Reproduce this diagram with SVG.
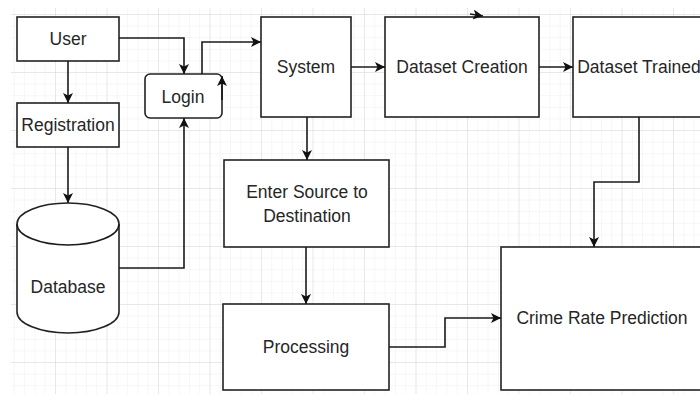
<svg xmlns="http://www.w3.org/2000/svg" width="700" height="394" viewBox="0 0 700 394">
  <defs>
    <pattern id="minor" patternUnits="userSpaceOnUse" x="3.5" y="2.4" width="10.3" height="11.6">
      <path d="M0,0 V11.6 M0,0 H10.3" fill="none" stroke="#eeeeee" stroke-width="1"/>
    </pattern>
    <pattern id="major" patternUnits="userSpaceOnUse" x="3.5" y="14" width="51.5" height="58">
      <path d="M0,0 V58 M0,0 H51.5" fill="none" stroke="#dadada" stroke-width="1"/>
    </pattern>
    <marker id="arr" viewBox="0 0 10 10" refX="10" refY="5" markerWidth="10" markerHeight="10" orient="auto" markerUnits="userSpaceOnUse">
      <path d="M0,0 L10,5 L0,10 L2.5,5 z" fill="#111"/>
    </marker>
  </defs>
  <style>
    .box { fill: #ffffff; stroke: #222222; stroke-width: 1.6; }
    .lbl { font-family: "Liberation Sans", Arial, sans-serif; font-size: 17.5px; fill: #262626; text-anchor: middle; dominant-baseline: central; }
    .edge { fill: none; stroke: #1a1a1a; stroke-width: 1.6; marker-end: url(#arr); }
    .line { fill: none; stroke: #1a1a1a; stroke-width: 1.6; }
  </style>
  <rect x="0" y="0" width="700" height="394" fill="#ffffff"/>
  <rect x="11" y="8" width="689" height="386" fill="url(#minor)"/>
  <rect x="11" y="8" width="689" height="386" fill="url(#major)"/>

  <g id="user">
    <rect class="box" x="17" y="17" width="102" height="44"/>
    <text class="lbl" x="68" y="39">User</text>
  </g>
  <g id="registration">
    <rect class="box" x="17" y="103" width="102" height="44"/>
    <text class="lbl" x="68" y="125">Registration</text>
  </g>
  <g id="database">
    <path class="box" d="M17,224 A51,21 0 0 1 119,224 V312 A51,21 0 0 1 17,312 Z"/>
    <path class="line" d="M17,224 A51,21 0 0 0 119,224"/>
    <text class="lbl" x="68" y="287">Database</text>
  </g>
  <g id="login">
    <rect class="box" x="145" y="74" width="77" height="44" rx="5"/>
    <text class="lbl" x="183" y="97">Login</text>
  </g>
  <g id="system">
    <rect class="box" x="261" y="17" width="90" height="100"/>
    <text class="lbl" x="306" y="67">System</text>
  </g>
  <g id="dataset-creation">
    <rect class="box" x="385" y="17" width="154" height="100"/>
    <text class="lbl" x="462" y="67">Dataset Creation</text>
  </g>
  <g id="dataset-trained">
    <rect class="box" x="573" y="17" width="132" height="100"/>
    <text class="lbl" x="639" y="67">Dataset Trained</text>
  </g>
  <g id="enter-source">
    <rect class="box" x="224" y="160" width="165" height="87"/>
    <text class="lbl" x="307" y="192">Enter Source to</text>
    <text class="lbl" x="307" y="216">Destination</text>
  </g>
  <g id="processing">
    <rect class="box" x="223" y="304" width="166" height="86"/>
    <text class="lbl" x="306" y="347">Processing</text>
  </g>
  <g id="crime-rate">
    <rect class="box" x="501" y="247" width="204" height="143"/>
    <text class="lbl" x="602" y="318">Crime Rate Prediction</text>
  </g>

  <g id="connectors">
    <path class="edge" d="M68,61 V103"/>
    <path class="edge" d="M119,38 H184 V74"/>
    <path class="edge" d="M68,147 V203"/>
    <path class="edge" d="M119,268 H184 V118"/>
    <path class="edge" d="M202,74 V42 H261"/>
    <path class="edge" d="M222,100 V76"/>
    <path class="edge" d="M351,67 H385"/>
    <path class="edge" d="M539,67 H573"/>
    <path class="edge" d="M307,117 V160"/>
    <path class="edge" d="M306,247 V304"/>
    <path class="edge" d="M389,347 H445 V318 H501"/>
    <path class="edge" d="M639,117 V182 H594 V247"/>
    <path class="edge" d="M470,14 L483,16"/>
  </g>
</svg>
